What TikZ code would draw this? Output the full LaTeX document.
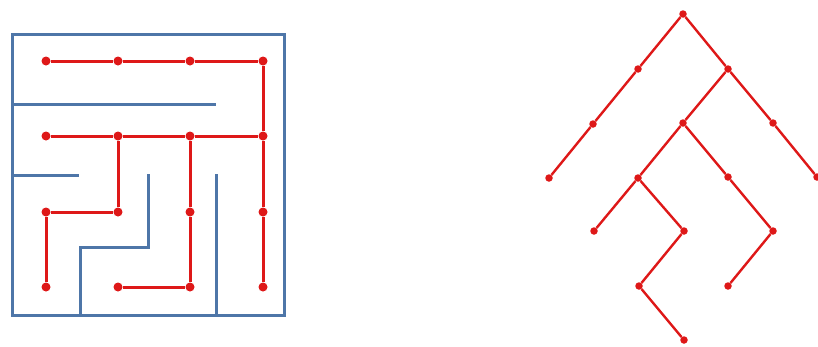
\documentclass[tikz,border=0pt]{standalone}
\definecolor{wallblue}{RGB}{78,118,168}
\definecolor{pathred}{RGB}{222,24,24}
\begin{document}
\begin{tikzpicture}[x=1pt,y=-1pt,
  wall/.style={draw=wallblue,line width=3.0pt},
  edge/.style={draw=pathred,line width=3.0pt},
  tedge/.style={draw=pathred,line width=2.4pt},
  dot/.style={circle,fill=pathred,inner sep=0pt,minimum size=9pt},
  tdot/.style={circle,fill=pathred,inner sep=0pt,minimum size=7.5pt}]
\useasboundingbox (0,0) rectangle (818,346);
% maze walls
\draw[wall] (12,34) rectangle (284,315);
\draw[wall] (12,104) -- (216,104);
\draw[wall] (12,175) -- (79,175);
\draw[wall] (148,174) -- (148,247) -- (80,247) -- (80,315);
\draw[wall] (216,174) -- (216,315);
% maze dots
\foreach \c/\x in {1/46,2/118,3/190,4/263}{
  \foreach \r/\y in {1/61,2/136,3/212,4/287}{
    \node[dot] (m\r\c) at (\x,\y) {};
  }
}
% maze path
\draw[edge] (m11) -- (m12) -- (m13) -- (m14) -- (m24);
\draw[edge] (m21) -- (m22) -- (m23) -- (m24);
\draw[edge] (m22) -- (m32) -- (m31) -- (m41);
\draw[edge] (m23) -- (m33) -- (m43) -- (m42);
\draw[edge] (m24) -- (m34) -- (m44);
% tree nodes
\node[tdot] (t0) at (683,14) {};
\node[tdot] (tL1) at (638,69) {};
\node[tdot] (tL2) at (593,124) {};
\node[tdot] (tL3) at (549,178) {};
\node[tdot] (tR1) at (728,69) {};
\node[tdot] (tR2) at (773,123) {};
\node[tdot] (tR3) at (817,177) {};
\node[tdot] (tC1) at (683,123) {};
\node[tdot] (tC2) at (638,178) {};
\node[tdot] (tC3) at (594,231) {};
\node[tdot] (tC4) at (684,231) {};
\node[tdot] (tC5) at (639,286) {};
\node[tdot] (tC6) at (684,340) {};
\node[tdot] (tD1) at (728,177) {};
\node[tdot] (tD2) at (773,231) {};
\node[tdot] (tD3) at (728,286) {};
% tree edges
\draw[tedge] (t0) -- (tL1) -- (tL2) -- (tL3);
\draw[tedge] (t0) -- (tR1) -- (tR2) -- (tR3);
\draw[tedge] (tR1) -- (tC1) -- (tC2) -- (tC3);
\draw[tedge] (tC2) -- (tC4) -- (tC5) -- (tC6);
\draw[tedge] (tC1) -- (tD1) -- (tD2) -- (tD3);
\end{tikzpicture}
\end{document}
